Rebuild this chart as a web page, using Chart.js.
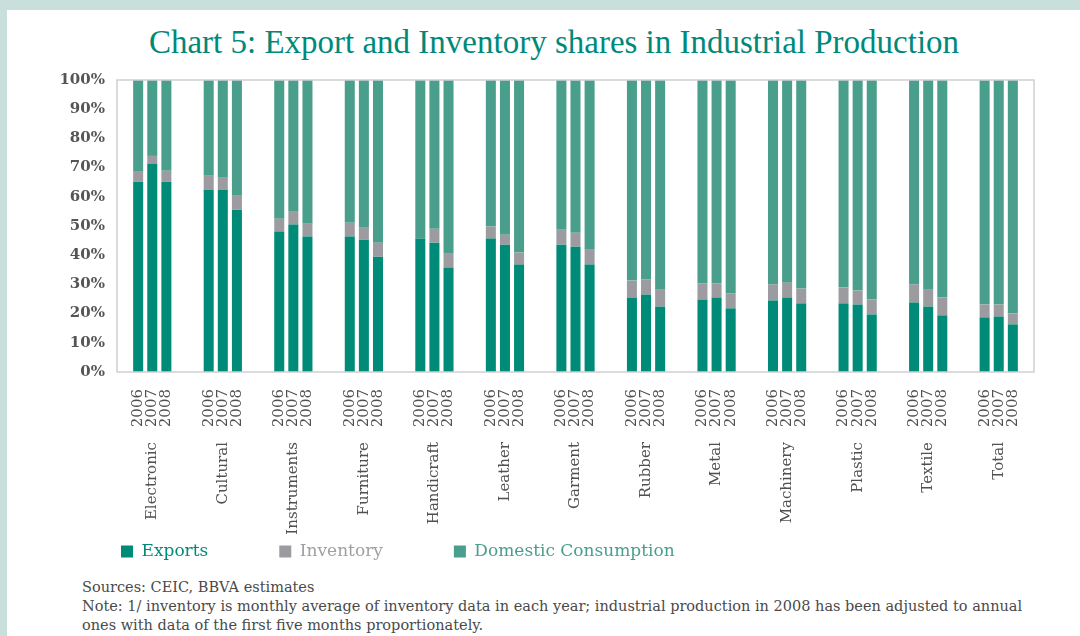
<!DOCTYPE html>
<html>
<head>
<meta charset="utf-8">
<script src="https://cdn.jsdelivr.net/npm/chart.js@4.4.1/dist/chart.umd.min.js"></script>
<style>
  html, body { margin: 0; padding: 0; width: 1080px; height: 636px; overflow: hidden; background: #c9dfdb; }
  #panel { position: absolute; left: 7px; top: 10px; width: 1073px; height: 626px; background: #ffffff; }
  #title { position: absolute; left: 0; top: 14px; width: 1094px; text-align: center; font-family: "Liberation Serif", serif; font-size: 33px; color: #00897a; white-space: nowrap; }
  #chartBox { position: absolute; left: 0; top: 49px; width: 1073px; height: 511px; }
  #notes { position: absolute; left: 75px; top: 568px; font-family: "DejaVu Serif", serif; font-size: 14.5px; line-height: 19px; color: #4a4a4a; white-space: nowrap; }
</style>
</head>
<body>
<div id="panel">
  <div id="title">Chart 5: Export and Inventory shares in Industrial Production</div>
  <div id="chartBox"><canvas id="c" width="1073" height="511"></canvas></div>
  <div id="notes">Sources: CEIC, BBVA estimates<br>Note: 1/ inventory is monthly average of inventory data in each year; industrial production in 2008 has been adjusted to annual<br>ones with data of the first five months proportionately.</div>
</div>
<script>
const categories = ["Electronic", "Cultural", "Instruments", "Furniture", "Handicraft", "Leather", "Garment", "Rubber", "Metal", "Machinery", "Plastic", "Textile", "Total"];
const years = ["2006", "2007", "2008"];
const yTicks = ["0%", "10%", "20%", "30%", "40%", "50%", "60%", "70%", "80%", "90%", "100%"];

const exports2006 = [65.1, 62.4, 48.1, 46.4, 45.7, 45.7, 43.6, 25.5, 24.8, 24.5, 23.5, 23.8, 18.7];
const exports2007 = [71.3, 62.4, 50.5, 45.3, 44.3, 43.6, 42.9, 26.5, 25.5, 25.5, 23.1, 22.4, 19.0];
const exports2008 = [65.1, 55.6, 46.4, 39.5, 35.8, 36.8, 36.8, 22.4, 21.8, 23.5, 19.7, 19.4, 16.3];

const inventory2006 = [3.5, 4.8, 4.4, 4.7, 0.0, 4.1, 5.1, 5.8, 5.5, 5.5, 5.4, 6.2, 4.4];
const inventory2007 = [2.7, 4.1, 4.4, 4.1, 4.8, 3.4, 4.8, 5.2, 4.8, 5.1, 4.8, 5.8, 4.1];
const inventory2008 = [3.8, 4.8, 4.4, 4.8, 4.7, 4.1, 5.1, 5.8, 5.1, 5.1, 5.1, 6.1, 3.7];

const domestic2006 = [31.4, 32.8, 47.5, 48.9, 54.3, 50.2, 51.3, 68.7, 69.7, 70.0, 71.1, 70.0, 76.9];
const domestic2007 = [26.0, 33.5, 45.1, 50.6, 50.9, 53.0, 52.3, 68.3, 69.7, 69.4, 72.1, 71.8, 76.9];
const domestic2008 = [31.1, 39.6, 49.2, 55.7, 59.5, 59.1, 58.1, 71.8, 73.1, 71.4, 75.2, 74.5, 80.0];

const seriesNames = ["Exports", "Inventory", "Domestic Consumption"];
const seriesColors = ["#008a78", "#9c9ba0", "#4a9e8c"];
const legendTextColors = ["#008a78", "#a0a0a4", "#4a9e8c"];

// year tick labels: one blank slot before and after each group of three years
const yearSlots = [];
categories.forEach(() => { yearSlots.push(""); years.forEach(y => yearSlots.push(y)); yearSlots.push(""); });

const byYear = {
  "2006": [exports2006, inventory2006, domestic2006],
  "2007": [exports2007, inventory2007, domestic2007],
  "2008": [exports2008, inventory2008, domestic2008]
};

const datasets = [];
years.forEach(y => {
  byYear[y].forEach((arr, s) => {
    datasets.push({
      label: seriesNames[s],
      data: arr,
      stack: y,
      backgroundColor: seriesColors[s],
      borderWidth: 0,
      categoryPercentage: 0.6,
      barPercentage: 0.71,
      xAxisID: "x"
    });
  });
});

const frame = {
  id: "frame",
  afterDatasetsDraw(chart) {
    const a = chart.chartArea, ctx = chart.ctx;
    ctx.save();
    ctx.strokeStyle = "#d0d0d0";
    ctx.lineWidth = 1.5;
    ctx.strokeRect(a.left, a.top, a.right - a.left, a.bottom - a.top);
    ctx.restore();
  }
};

new Chart(document.getElementById("c"), {
  type: "bar",
  data: { labels: categories, datasets },
  plugins: [frame],
  options: {
    responsive: false,
    animation: false,
    layout: { padding: { left: 43, right: 46, top: 10, bottom: 0 } },
    scales: {
      x: {
        type: "category",
        position: "bottom",
        weight: 2,
        stacked: true,
        offset: true,
        grid: { display: false, drawTicks: false },
        border: { display: false },
        ticks: {
          autoSkip: false, minRotation: 90, maxRotation: 90, padding: 16,
          color: "#505050",
          font: { family: "DejaVu Serif", size: 15 }
        },
        afterFit(s) {
          s.height = 46;
          // let the long group names run down past the axis box, as in the original
          s._computeLabelArea = () => undefined;
        }
      },
      xYears: {
        type: "category",
        position: "bottom",
        weight: 1,
        labels: yearSlots,
        offset: true,
        grid: { display: false, drawTicks: false },
        border: { display: false },
        ticks: {
          autoSkip: false, minRotation: 90, maxRotation: 90, padding: 17,
          color: "#505050",
          font: { family: "DejaVu Serif", size: 15 }
        },
        afterFit(s) { s.height = 54; }
      },
      y: {
        stacked: true,
        min: 0, max: 100,
        grid: { display: false, drawTicks: false },
        border: { display: false },
        ticks: {
          stepSize: 10, padding: 12,
          color: "#555555",
          font: { family: "DejaVu Serif", size: 15, weight: "bold" },
          callback: (v, i) => yTicks[i]
        },
        afterFit(s) { s.width = 67; }
      }
    },
    plugins: {
      title: { display: false },
      tooltip: { enabled: false },
      legend: {
        display: true,
        position: "bottom",
        align: "start",
        labels: {
          boxWidth: 12, boxHeight: 12, padding: 71,
          font: { family: "DejaVu Serif", size: 17 },
          generateLabels(chart) {
            return seriesNames.map((n, s) => ({
              text: n,
              fillStyle: seriesColors[s],
              strokeStyle: seriesColors[s],
              lineWidth: 0,
              fontColor: legendTextColors[s],
              hidden: false,
              datasetIndex: s
            }));
          }
        }
      }
    }
  }
});
</script>
</body>
</html>
